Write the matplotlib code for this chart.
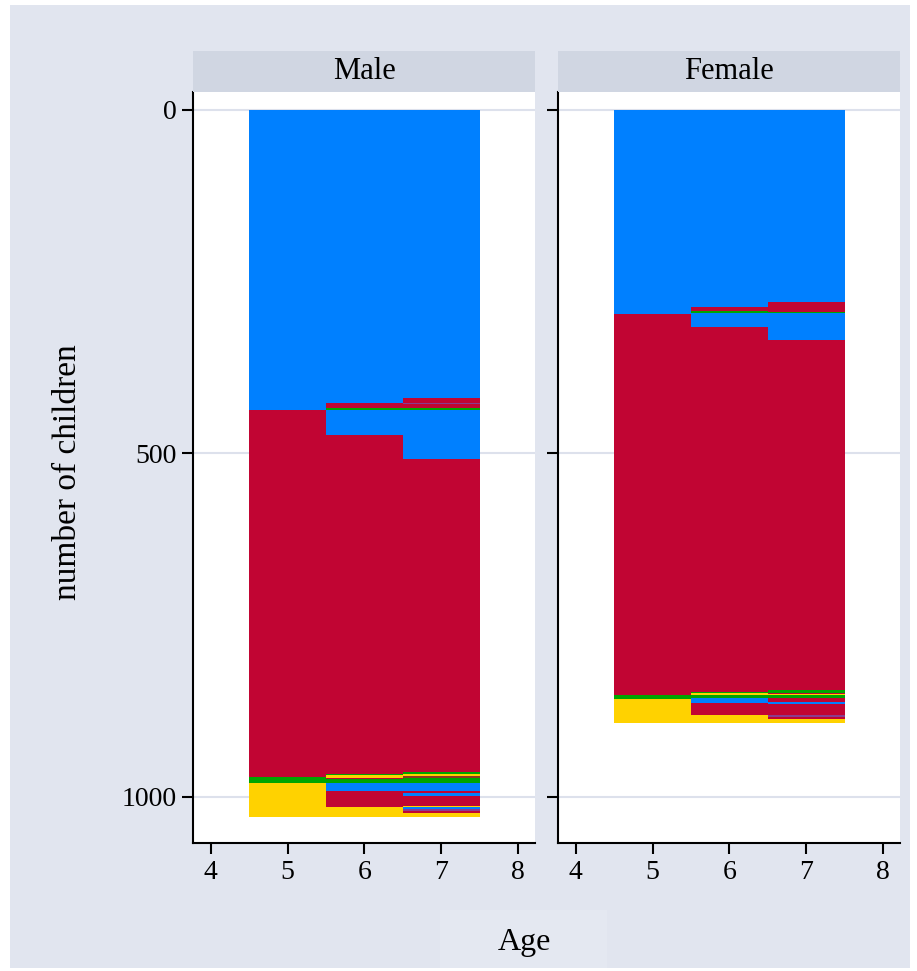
import numpy as np
import matplotlib.pyplot as plt
from matplotlib.patches import Rectangle

plt.rcParams['font.family'] = ['Liberation Serif', 'DejaVu Serif']

# Zustandsfarben
colors = {
    'B': '#0080FF',
    'R': '#C10533',
    'G': '#00A500',
    'Y': '#FFD200',
    'P': '#8A3C8E',
    'N': '#8C3A1E',
}

ages = [5, 6, 7]
panels = ['Male', 'Female']

# Zustandsfolgen je Alter (von oben nach unten gestapelt)
male_5_states = ['B', 'R', 'G', 'Y']
male_5_counts = [437, 534, 8, 50]
male_6_states = ['B', 'R', 'G', 'B', 'R', 'G', 'Y', 'R', 'G', 'B', 'R', 'Y']
male_6_counts = [427, 7, 3, 36, 493, 2, 5, 1, 5, 12, 24, 14]
male_7_states = ['B', 'R', 'P', 'R', 'G', 'B', 'R', 'Y', 'G', 'Y', 'N', 'G',
                 'B', 'R', 'B', 'R', 'Y', 'B', 'P', 'R', 'Y']
male_7_counts = [419, 8, 1, 6, 3, 71, 455, 1, 2, 3, 3, 7,
                 12, 3, 4, 15, 2, 3, 2, 4, 5]

female_5_states = ['B', 'R', 'G', 'Y']
female_5_counts = [297, 555, 5, 36]
female_6_states = ['B', 'R', 'G', 'B', 'R', 'G', 'Y', 'G', 'B', 'R', 'Y']
female_6_counts = [287, 6, 3, 20, 531, 2, 3, 4, 7, 17, 13]
female_7_states = ['B', 'R', 'G', 'B', 'P', 'B', 'R', 'G', 'R', 'Y', 'G',
                   'R', 'B', 'R', 'P', 'R', 'Y']
female_7_counts = [279, 15, 2, 21, 1, 17, 510, 3, 2, 1, 5,
                   6, 3, 15, 3, 3, 7]

data = {
    'Male': [(male_5_states, male_5_counts),
             (male_6_states, male_6_counts),
             (male_7_states, male_7_counts)],
    'Female': [(female_5_states, female_5_counts),
               (female_6_states, female_6_counts),
               (female_7_states, female_7_counts)],
}

W, H = 917, 971
fig = plt.figure(figsize=(W / 100, H / 100), dpi=100, facecolor='white')

# Hintergrund der Grafikregion
fig.add_artist(Rectangle((10 / W, 1 - 968 / H), 900 / W, 963 / H,
                         transform=fig.transFigure, facecolor='#E1E5EF',
                         edgecolor='none', zorder=-10))
fig.add_artist(Rectangle((440 / W, 1 - 968 / H), 167 / W, 58 / H,
                         transform=fig.transFigure, facecolor='#E4E8F1',
                         edgecolor='none', zorder=-9))

lefts = [193, 558]
ax_w = 342
ax_top, ax_bot = 92, 843
strip_top = 51

for i, name in enumerate(panels):
    l = lefts[i]
    ax = fig.add_axes([l / W, 1 - ax_bot / H, ax_w / W, (ax_bot - ax_top) / H])
    ax.set_facecolor('white')
    ax.set_axisbelow(True)

    for age, (states, counts) in zip(ages, data[name]):
        bottoms = np.concatenate([[0], np.cumsum(counts)[:-1]])
        ax.bar([age] * len(counts), counts, bottom=bottoms, width=1.0,
               color=[colors[s] for s in states], linewidth=0, zorder=2)

    ax.set_xlim(3.77, 8.22)
    ax.set_ylim(1067, -26)
    ax.set_xticks([4, 5, 6, 7, 8])
    ax.set_yticks([0, 500, 1000])
    ax.yaxis.grid(True, color='#DDE1EC', linewidth=1.5)
    ax.tick_params(axis='both', direction='out', length=8, width=1.5,
                   labelsize=20, color='black', pad=4)
    for side in ['top', 'right']:
        ax.spines[side].set_visible(False)
    for side in ['left', 'bottom']:
        ax.spines[side].set_linewidth(1.5)
    if i != 0:
        ax.tick_params(axis='y', labelleft=False)

    # Panelüberschrift
    strip = fig.add_axes([l / W, 1 - ax_top / H, ax_w / W, (ax_top - strip_top) / H])
    strip.set_facecolor('#D0D6E2')
    strip.set_xticks([])
    strip.set_yticks([])
    for s in strip.spines.values():
        s.set_visible(False)
    strip.text(0.5, 0.5, name, ha='center', va='center', fontsize=22,
               transform=strip.transAxes)

fig.text(68 / W, 1 - 472 / H, 'number of children', rotation=90,
         ha='center', va='center', fontsize=24)
fig.text(524 / W, 1 - 942 / H, 'Age', ha='center', va='center', fontsize=23)

plt.savefig('out.png', dpi=100, facecolor=fig.get_facecolor())
